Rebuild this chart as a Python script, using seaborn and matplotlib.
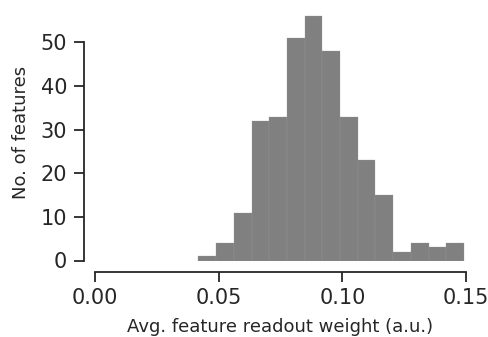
"""Histogram of average feature readout weights."""
import matplotlib
matplotlib.use('Agg')
import matplotlib.pyplot as plt
import numpy as np
import seaborn as sns

sns.set_theme(style='ticks', context='notebook')
plt.rcParams['font.family'] = ['DejaVu Sans']

# bin edges and counts
bin_edges = [0.0418, 0.0490, 0.0561, 0.0633, 0.0704, 0.0776, 0.0848, 0.0919,
             0.0991, 0.1062, 0.1134, 0.1206, 0.1277, 0.1349, 0.1420, 0.1492]
counts = [1, 4, 11, 32, 33, 51, 56, 48, 33, 23, 15, 2, 4, 3, 4]
x_ticks = [0.00, 0.05, 0.10, 0.15]
y_ticks = [0, 10, 20, 30, 40, 50]

centers = (np.array(bin_edges[:-1]) + np.array(bin_edges[1:])) / 2

fig = plt.figure(figsize=(4.89, 3.37), dpi=100)
ax = fig.add_axes([95 / 489, 1 - 260.5 / 337, 371 / 489, 256.5 / 337])
sns.histplot(x=centers, weights=counts, bins=bin_edges, color='#808080',
             alpha=1, edgecolor='#9a9a9a', linewidth=0.2, ax=ax)
ax.set_xlim(0, 0.15)
ax.set_ylim(0, 58.8)
ax.set_xticks(x_ticks)
ax.set_xticklabels(['%.2f' % t for t in x_ticks])
ax.set_yticks(y_ticks)
ax.tick_params(labelsize=15, length=7, width=1.3, pad=5)
ax.set_xlabel('Avg. feature readout weight (a.u.)', fontsize=13, labelpad=7)
ax.set_ylabel('No. of features', fontsize=13, labelpad=8)
for sp in ax.spines.values():
    sp.set_linewidth(1.3)
sns.despine(ax=ax, offset=8, trim=True)

fig.savefig('out.png', dpi=100)
